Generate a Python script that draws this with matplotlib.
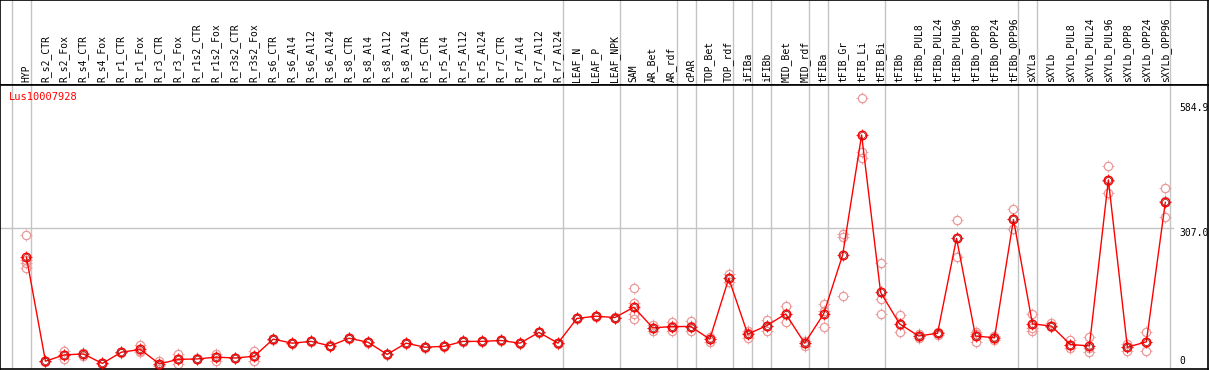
import matplotlib
matplotlib.use("Agg")
import matplotlib.pyplot as plt
from matplotlib.path import Path
import numpy as np

# sample names, left to right
labels = ["HYP", "R_s2_CTR", "R_s2_Fox", "R_s4_CTR", "R_s4_Fox", "R_r1_CTR", "R_r1_Fox",
          "R_r3_CTR", "R_r3_Fox", "R_r1s2_CTR", "R_r1s2_Fox", "R_r3s2_CTR", "R_r3s2_Fox",
          "R_s6_CTR", "R_s6_Al4", "R_s6_Al12", "R_s6_Al24", "R_s8_CTR", "R_s8_Al4",
          "R_s8_Al12", "R_s8_Al24", "R_r5_CTR", "R_r5_Al4", "R_r5_Al12", "R_r5_Al24",
          "R_r7_CTR", "R_r7_Al4", "R_r7_Al12", "R_r7_Al24", "LEAF_N", "LEAF_P", "LEAF_NPK",
          "SAM", "AR_Bet", "AR_rdf", "cPAR", "TOP_Bet", "TOP_rdf", "iFIBa", "iFIBb",
          "MID_Bet", "MID_rdf", "tFIBa", "tFIB_Gr", "tFIB_Li", "tFIB_Bi", "tFIBb",
          "tFIBb_PUL8", "tFIBb_PUL24", "tFIBb_PUL96", "tFIBb_OPP8", "tFIBb_OPP24",
          "tFIBb_OPP96", "sXYLa", "sXYLb", "sXYLb_PUL8", "sXYLb_PUL24", "sXYLb_PUL96",
          "sXYLb_OPP8", "sXYLb_OPP24", "sXYLb_OPP96"]

# mean expression per sample
means = [242, 11, 25, 27, 6, 31, 37, 5, 15, 16, 20, 18, 22,
         60, 51, 55, 45, 62, 53, 26, 51, 42, 44, 55, 55, 57, 51, 75, 51,
         106, 111, 108, 131, 85, 88, 88, 60, 195, 71, 90, 116, 51, 116,
         247, 514, 164, 94, 67, 73, 284, 67, 63, 326, 94, 89, 48, 45, 414, 42, 54, 364]

# individual replicates
reps = [[291, 235, 229, 219], [12, 11, 10], [34, 25, 15], [30, 29, 22], [7, 6, 5],
        [31, 31, 30], [46, 34, 32], [12, 2, 0], [26, 15, 4], [17, 16, 15], [28, 20, 12],
        [19, 18, 17], [34, 22, 11],
        [61, 60, 59], [52, 51, 50], [56, 55, 54], [46, 45, 44], [63, 62, 61], [54, 53, 52],
        [27, 26, 25], [52, 51, 50], [43, 42, 41], [45, 44, 43], [56, 55, 54], [56, 55, 54],
        [58, 57, 56], [52, 51, 50], [76, 75, 74], [52, 51, 50],
        [107, 106, 105], [112, 111, 110], [109, 108, 107],
        [173, 140, 116, 104], [91, 85, 78], [99, 90, 77], [100, 89, 77], [65, 61, 54],
        [204, 195, 187], [79, 73, 62], [102, 89, 78], [134, 116, 97], [56, 51, 45],
        [138, 123, 86], [294, 288, 155], [595, 477, 462], [229, 149, 116], [114, 93, 75],
        [71, 68, 62], [76, 73, 70], [325, 285, 242], [75, 71, 54], [66, 65, 58],
        [349, 326, 304], [116, 84, 78], [95, 89, 86], [58, 48, 41], [65, 40, 31],
        [445, 411, 386], [49, 42, 34], [75, 54, 34], [395, 366, 331]]

gene = "Lus10007928"
ytick_vals = [584.9, 307.0, 0]
ytick_text = ["584.9", "307.0", "0"]
# last sample of each group (separators sit just after it)
group_ends = [-1, 0, 28, 31, 34, 35, 37, 38, 39, 41, 42, 45, 52, 53, 60]

mono = "DejaVu Sans Mono"
x = np.arange(len(labels))
xlim = (-26 / 19, (1209 - 26) / 19)

# little tick marks around each circle
tick_path = Path([(0, 0.75), (0, 1), (0, -0.75), (0, -1), (0.75, 0), (1, 0), (-0.75, 0), (-1, 0)],
                 [Path.MOVETO, Path.LINETO] * 4)

fig = plt.figure(figsize=(12.09, 3.70), dpi=100)
axh = fig.add_axes([0.0004, 1 - 85 / 370, 0.999, 85 / 370 - 0.001])
ax = fig.add_axes([0.0004, 1 / 370, 0.999, 284 / 370])

for a in (axh, ax):
    a.set_xlim(*xlim)
    a.set_xticks([])
    a.set_yticks([])
    for s in a.spines.values():
        s.set_color("black")
        s.set_linewidth(1.2)
    for g in group_ends:
        a.axvline(g + 0.25, color="#c4c4c4", lw=1.0, zorder=0)

axh.set_ylim(0, 1)
for i, lab in enumerate(labels):
    axh.text(i, 0.03, lab, rotation=90, ha="center", va="bottom",
             fontsize=7, family=mono)

ax.set_ylim(-6.4, 625)
ax.plot([xlim[0], 60.4], [307, 307], color="#c4c4c4", lw=1.0, zorder=0)

for i, r in enumerate(reps):
    ax.plot([i] * len(r), r, linestyle="none", marker="o", ms=6.0,
            mfc="none", mec="#eb9898", mew=0.9, zorder=2)
    ax.plot([i] * len(r), r, linestyle="none", marker=tick_path, ms=8.0,
            mec="#eb9898", mew=0.6, zorder=2)

ax.plot(x, means, color="red", lw=1.0, zorder=3)
ax.plot(x, means, linestyle="none", marker="o", ms=6.2, mfc="none",
        mec="red", mew=1.0, zorder=4)
ax.plot(x, means, linestyle="none", marker="o", ms=4.4, mfc="none",
        mec="#8a1010", mew=0.5, zorder=4)
ax.plot(x, means, linestyle="none", marker=tick_path, ms=8.2,
        mec="red", mew=0.6, zorder=4)

for v, t in zip(ytick_vals, ytick_text):
    ax.text(60.75, v, t, ha="left", va="top" if v > 0 else "bottom",
            fontsize=7, family=mono)

ax.text(-0.9, 598, gene, color="red", ha="left", va="center",
        fontsize=7.5, family=mono)

fig.savefig("out.png", dpi=100)
